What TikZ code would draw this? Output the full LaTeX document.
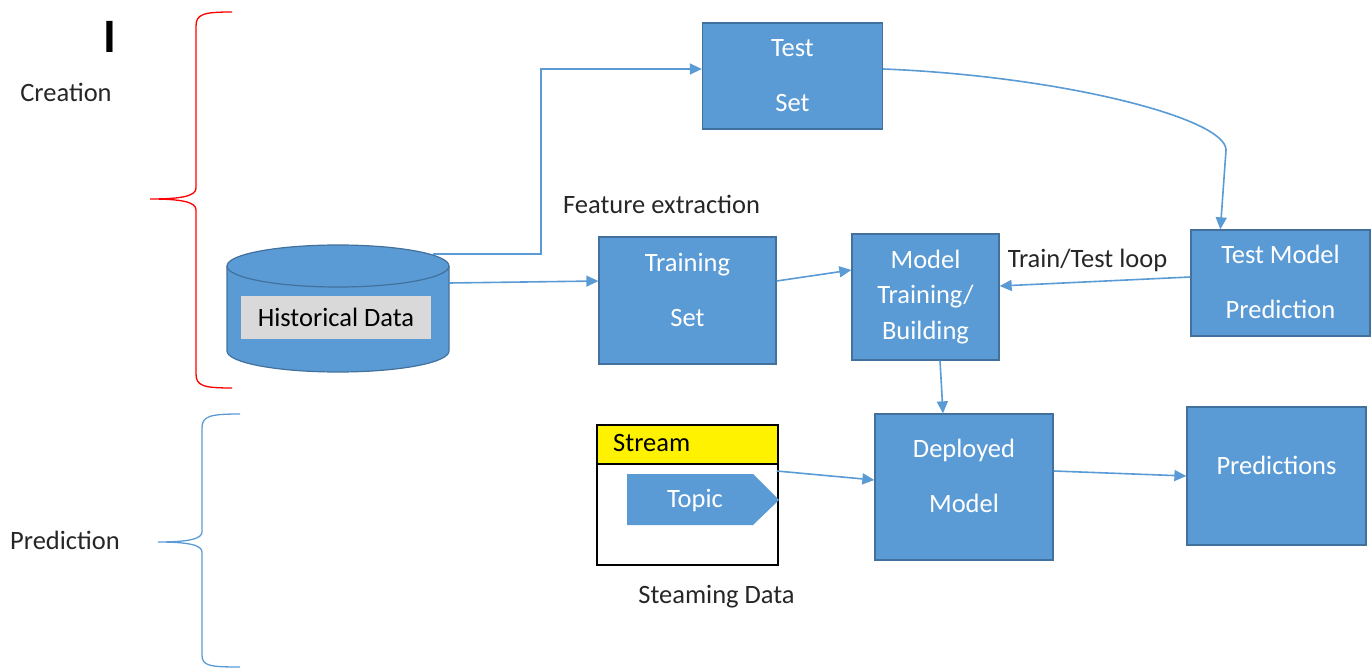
\documentclass[tikz,border=0pt]{standalone}
\usepackage{fontspec}
\setmainfont{Carlito}
\usetikzlibrary{arrows.meta,calc}
\definecolor{boxblue}{HTML}{5B9BD5}
\definecolor{boxedge}{HTML}{41719C}
\definecolor{ink}{HTML}{262626}
\definecolor{graylabel}{HTML}{D9D9D9}
\definecolor{bracered}{HTML}{FF0000}
\begin{document}
\begin{tikzpicture}[x=1pt,y=-1pt,
  blk/.style={draw=boxedge, fill=boxblue, line width=1.3pt, inner sep=0pt},
  wtxt/.style={text=white, inner sep=0pt, align=center, font=\fontsize{26.5}{55}\selectfont},
  lbl/.style={text=ink, inner sep=0pt, font=\fontsize{26.5}{32}\selectfont},
  conn/.style={draw=boxblue, line width=1.6pt, -{Triangle[length=12pt,width=11pt]}},
  brace/.style={line width=1.3pt}]
\useasboundingbox (0,0) rectangle (1372,668);

% section braces and titles
\draw[brace, bracered] (232,12) .. controls (204,12) and (196,14) .. (196,26) -- (196,188)
  .. controls (196,196) and (182,199) .. (150,199)
  .. controls (182,199) and (196,202) .. (196,210) -- (196,374)
  .. controls (196,386) and (204,388) .. (232,388);
\draw[brace, boxblue] (240,414) .. controls (210,414) and (202,416) .. (202,428) -- (202,532)
  .. controls (202,539) and (188,542) .. (158,542)
  .. controls (188,542) and (202,545) .. (202,552) -- (202,655)
  .. controls (202,666) and (210,667) .. (240,667);
\node[lbl, text=black, font=\fontsize{48}{50}\selectfont\bfseries] (mark) at (110,37) {I};
\node[lbl] (creation) at (66,92) {Creation};
\node[lbl] (prediction) at (65,540) {Prediction};

% historical data store
\filldraw[fill=boxblue, draw=boxedge, line width=1.2pt]
  (227,266) -- (227,351) arc[start angle=180, end angle=0, x radius=111, y radius=21]
  -- (449,266) arc[start angle=0, end angle=-180, x radius=111, y radius=21] -- cycle;
\draw[draw=boxedge, line width=1.2pt] (227,266) arc[start angle=180, end angle=0, x radius=111, y radius=21];
\node[fill=graylabel, inner sep=0pt, minimum width=190pt, minimum height=43pt,
  font=\fontsize{26.5}{32}\selectfont] (hist) at (336,317.5) {Historical Data};
\coordinate (histtop) at (433,254);
\coordinate (histright) at (449,283);

% processing boxes
\node[blk, minimum width=180pt, minimum height=106pt] (testset) at (792.5,76) {};
\node[wtxt] (testsettxt) at (792.5,75.5) {Test\\Set};
\node[blk, minimum width=177pt, minimum height=127pt] (trainset) at (687.5,300.5) {};
\node[wtxt] (trainsettxt) at (687.5,290) {Training\\Set};
\node[blk, minimum width=147pt, minimum height=126pt] (model) at (925.5,297) {};
\node[wtxt, font=\fontsize{26.5}{35.5}\selectfont] (modeltxt) at (925.5,297) {Model\\Training/\\Building};
\node[blk, minimum width=179pt, minimum height=106pt] (testmodel) at (1280.5,283) {};
\node[wtxt] (testmodeltxt) at (1280.5,282) {Test Model\\Prediction};
\node[blk, minimum width=178pt, minimum height=146pt] (deployed) at (964,487) {};
\node[wtxt] (deployedtxt) at (964,475.5) {Deployed\\Model};
\node[blk, minimum width=179pt, minimum height=138pt] (predictions) at (1276.5,476) {};
\node[wtxt] (predictionstxt) at (1276.5,465) {Predictions};

% streaming source
\fill[yellow] (597,425) rectangle (778,464);
\node[draw=black, line width=1.5pt, inner sep=0pt, minimum width=181pt, minimum height=140pt] (stream) at (687.5,495) {};
\draw[black, line width=1.5pt] (597,464) -- (778,464);
\node[lbl, text=black, anchor=west] (streamtxt) at (613,443) {Stream};
\fill[boxblue] (627,474) -- (753,474) -- (779,500) -- (753,525) -- (627,525) -- cycle;
\node[wtxt] (topic) at (695,501) {Topic};

% free labels
\node[lbl] (feature) at (661.5,204) {Feature extraction};
\node[lbl] (loop) at (1087.5,260) {Train/Test loop};
\node[lbl] (steaming) at (716.5,597) {Steaming Data};

% connectors
\draw[conn] (histtop) -- (541,254) -- (541,69) -- ($(testset.west)+(0,-7)$);
\draw[conn] (histright) -- ($(trainset.west)+(0,-19.5)$);
\draw[conn] ($(trainset.east)+(0,-19.5)$) -- ($(model.west)+(0,-27)$);
\draw[conn] ($(testset.east)+(0,-7)$) .. controls (1060,76) and (1226,118) .. (1226,150)
  -- ($(testmodel.north west)+(30,0)$);
\draw[conn] ($(testmodel.west)+(0,-6)$) -- ($(model.east)+(0,-11)$);
\draw[conn] ($(model.south)+(14.5,0)$) -- ($(deployed.north)+(-21,0)$);
\draw[conn] ($(stream.east)+(-2,-24)$) -- ($(deployed.west)+(0,-7)$);
\draw[conn] ($(deployed.east)+(0,-16)$) -- (predictions.west);
\end{tikzpicture}
\end{document}
